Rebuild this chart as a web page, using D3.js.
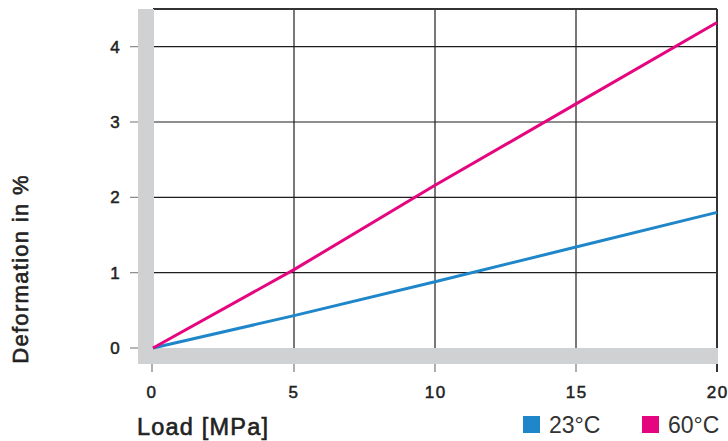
<!DOCTYPE html>
<html><head><meta charset="utf-8">
<script src="https://cdn.jsdelivr.net/npm/d3@7"></script>
<style>body{margin:0;background:#fff}svg{display:block}text{font-family:"Liberation Sans",Arial,sans-serif}</style>
</head><body><svg id="c" width="728" height="441"></svg>
<script>
const loads = [0, 5, 10, 15, 20];
const def23 = [0, 0.43, 0.88, 1.34, 1.80];
const def60 = [0, 1.04, 2.16, 3.24, 4.32];
const xTicks = [0, 5, 10, 15, 20];
const yTicks = [0, 1, 2, 3, 4];
const seriesNames = ["23°C", "60°C"];
const seriesColors = ["#1f87c9", "#e5057f"];

const svg = d3.select("#c");
const x = d3.scaleLinear().domain([0, 20]).range([153, 717]);
const y = d3.scaleLinear().domain([0, 4.5]).range([348, 9]);
const grey = "#d0d1d3";
const ink = "#222";

const g = svg.append("g");
g.selectAll("line.h").data(yTicks.filter(d => d > 0)).join("line")
  .attr("x1", x(0)).attr("x2", x(20)).attr("y1", d => y(d)).attr("y2", d => y(d))
  .attr("stroke", "#1e1e1e").attr("stroke-width", 1.2);
g.selectAll("line.v").data(xTicks.filter(d => d > 0 && d < 20)).join("line")
  .attr("x1", d => x(d)).attr("x2", d => x(d)).attr("y1", y(4.5)).attr("y2", y(0))
  .attr("stroke", "#1e1e1e").attr("stroke-width", 1.2);
g.append("line").attr("x1", x(0)).attr("x2", x(20)).attr("y1", y(4.5)).attr("y2", y(4.5))
  .attr("stroke", "#333").attr("stroke-width", 2);
g.append("line").attr("x1", x(20)).attr("x2", x(20)).attr("y1", y(4.5)).attr("y2", 372)
  .attr("stroke", "#333").attr("stroke-width", 2);

g.selectAll("line.xt").data(xTicks.filter(d => d < 20)).join("line")
  .attr("x1", d => x(d) - (d === 0 ? 1 : 0)).attr("x2", d => x(d) - (d === 0 ? 1 : 0))
  .attr("y1", 362).attr("y2", 372).attr("stroke", "#777").attr("stroke-width", 1.2);
g.selectAll("line.yt").data(yTicks).join("line")
  .attr("x1", 130).attr("x2", 139).attr("y1", d => y(d)).attr("y2", d => y(d))
  .attr("stroke", "#888").attr("stroke-width", 1.2);

svg.append("rect").attr("x", 138).attr("y", y(4.5)).attr("width", 16).attr("height", 364 - y(4.5)).attr("fill", grey);
svg.append("rect").attr("x", 138).attr("y", 348).attr("width", x(20) + 1 - 138).attr("height", 16).attr("fill", grey);

const line = d3.line().x(d => x(d[0])).y(d => y(d[1]));
[def23, def60].forEach((vals, i) => {
  svg.append("path").datum(loads.map((l, j) => [l, vals[j]]))
    .attr("d", line).attr("fill", "none").attr("stroke", seriesColors[i])
    .attr("stroke-width", 3).attr("stroke-linecap", "butt");
});

function medium(sel, w) { return sel.attr("fill", ink).attr("stroke", ink).attr("stroke-width", w); }

medium(svg.selectAll("text.xl").data(xTicks).join("text")
  .attr("x", d => x(d) - (d === 0 ? 1 : 0)).attr("y", 398).attr("text-anchor", "middle")
  .attr("font-size", 17).attr("letter-spacing", 1.5).attr("dx", d => d >= 10 ? 0.75 : 0).text(d => d), 0.5);
medium(svg.selectAll("text.yl").data(yTicks).join("text")
  .attr("x", 115).attr("y", d => y(d) + 6).attr("text-anchor", "middle")
  .attr("font-size", 17).text(d => d), 0.5);

medium(svg.append("text").attr("x", 137).attr("y", 435).attr("font-size", 23.5)
  .attr("letter-spacing", 1.2).text("Load [MPa]"), 0.6);
medium(svg.append("text").attr("transform", "translate(28,269) rotate(-90)").attr("text-anchor", "middle")
  .attr("font-size", 22).attr("letter-spacing", 1.3).text("Deformation in %"), 0.6);

const legX = [523, 642];
seriesNames.forEach((n, i) => {
  svg.append("rect").attr("x", legX[i]).attr("y", 416).attr("width", 17).attr("height", 17).attr("fill", seriesColors[i]);
  svg.append("text").attr("x", legX[i] + 26).attr("y", 433).attr("font-size", 23).attr("font-weight", 300)
    .attr("fill", "#333").text(n);
});
</script></body></html>
